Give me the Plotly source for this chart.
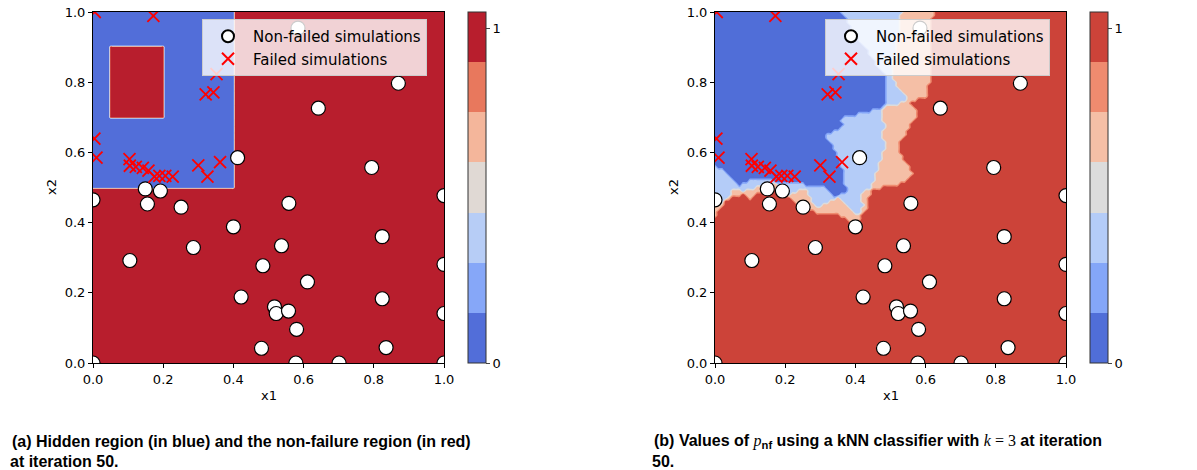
import numpy as np
import plotly.graph_objects as go

# ---------------- data ----------------
nonfailed_x = [0.0, 0.149, 0.192, 0.155, 0.251, 0.412, 0.400, 0.558, 0.870, 0.642,
               0.794, 1.0, 0.824, 0.0, 0.105, 0.286, 0.537, 0.484, 0.422, 0.517,
               0.522, 0.557, 0.580, 0.480, 0.578, 1.0, 0.611, 0.824, 1.0, 0.835,
               0.701, 1.0, 0.584]
nonfailed_y = [0.465, 0.496, 0.490, 0.453, 0.444, 0.585, 0.388, 0.455, 0.797, 0.726,
               0.557, 0.477, 0.360, 0.0, 0.292, 0.329, 0.334, 0.277, 0.188, 0.160,
               0.141, 0.148, 0.096, 0.042, 0.0, 0.281, 0.231, 0.183, 0.141, 0.044,
               0.0, 0.0, 0.954]
failed_x = [0.005, 0.172, 0.352, 0.321, 0.343, 0.004, 0.010, 0.104, 0.105, 0.122,
            0.142, 0.158, 0.175, 0.189, 0.206, 0.227, 0.300, 0.326, 0.362]
failed_y = [1.0, 0.989, 0.823, 0.765, 0.771, 0.639, 0.585, 0.581, 0.562, 0.559,
            0.556, 0.548, 0.531, 0.533, 0.533, 0.531, 0.563, 0.531, 0.572]

# hidden (failure) region: outer box minus inner box  (x0, x1, y0, y1)
hidden_box = (0.0, 0.4, 0.5, 1.0)
inner_box = (0.05, 0.2, 0.7, 0.9)
k_neighbors = 3

levels = [0.0, 0.15, 0.30, 0.45, 0.60, 0.75, 0.90, 1.05]
colors_left = ['#526ed9', '#86a7f8', '#b7cdf6', '#e0d9d4', '#f4b69b', '#e8785d', '#b81e2d']
colors_right = ['#506ed8', '#84a6f8', '#b4ccf8', '#dcdcdc', '#f5bfa6', '#ef8b6f', '#cc4339']

# ---------------- derived fields ----------------
W, H = 1197, 470
gx = np.linspace(0, 1, 201)
gy = np.linspace(0, 1, 201)
X, Y = np.meshgrid(gx, gy)
in_hidden = (X >= hidden_box[0]) & (X <= hidden_box[1]) & (Y >= hidden_box[2]) & (Y <= hidden_box[3])
in_inner = (X >= inner_box[0]) & (X <= inner_box[1]) & (Y >= inner_box[2]) & (Y <= inner_box[3])
z_left = np.where(in_hidden & ~in_inner, 0.0, 1.0)

kx = np.linspace(0, 1, 101)
ky = np.linspace(0, 1, 101)
KX, KY = np.meshgrid(kx, ky)
px = np.array(nonfailed_x + failed_x)
py = np.array(nonfailed_y + failed_y)
lab = np.array([1.0] * len(nonfailed_x) + [0.0] * len(failed_x))
d = (KX[..., None] - px) ** 2 + (KY[..., None] - py) ** 2
idx = np.argsort(d, axis=-1)[..., :k_neighbors]
z_right = lab[idx].mean(axis=-1)


def stepped(cols):
    n = len(cols)
    cs = []
    for i, c in enumerate(cols):
        cs.append([i / n, c])
        cs.append([(i + 1) / n, c])
    return cs


def px2x(p):
    return p / W


def px2y(p):
    return 1 - p / H


left_dom = [px2x(93), px2x(444)]
right_dom = [px2x(715), px2x(1066)]
ydom = [px2y(363), px2y(12)]

fig = go.Figure()

for (z, xs, ys, cols, xa, ya, cbx) in [
    (z_left, gx, gy, colors_left, 'x', 'y', 468),
    (z_right, kx, ky, colors_right, 'x2', 'y2', 1090),
]:
    fig.add_trace(go.Contour(
        z=z, x=xs, y=ys, xaxis=xa, yaxis=ya,
        colorscale=stepped(cols), zmin=levels[0], zmax=levels[-1], zauto=False,
        contours=dict(start=levels[0], end=levels[-1], size=0.15, coloring='fill', showlines=False),
        line=dict(width=0),
        showlegend=False, hoverinfo='skip',
        colorbar=dict(
            x=px2x(cbx), xanchor='left', y=px2y(363), yanchor='bottom',
            len=351 / H, lenmode='fraction', thickness=18, thicknessmode='pixels',
            xpad=0, ypad=0, outlinewidth=1, outlinecolor='#333333',
            tickvals=[0, 1], ticktext=['0', '1'], ticks='outside', ticklen=4,
            tickfont=dict(family='DejaVu Sans', size=13, color='black'),
        ),
    ))

for (xa, ya, lg) in [('x', 'y', 'legend'), ('x2', 'y2', 'legend2')]:
    fig.add_trace(go.Scatter(
        x=nonfailed_x, y=nonfailed_y, mode='markers', xaxis=xa, yaxis=ya, legend=lg,
        name='Non-failed simulations',
        marker=dict(symbol='circle', size=14, color='white', line=dict(color='black', width=1.2)),
    ))
    fig.add_trace(go.Scatter(
        x=failed_x, y=failed_y, mode='markers', xaxis=xa, yaxis=ya, legend=lg,
        name='Failed simulations',
        marker=dict(symbol='x-thin', size=12, color='red', line=dict(color='red', width=1.8)),
    ))

axis_common = dict(range=[0, 1], showgrid=False, zeroline=False, showline=True, mirror=True,
                   automargin=False,
                   linecolor='black', linewidth=1, ticks='outside', ticklen=4, tickcolor='black',
                   tickvals=[0, 0.2, 0.4, 0.6, 0.8, 1.0],
                   ticktext=['0.0', '0.2', '0.4', '0.6', '0.8', '1.0'],
                   tickfont=dict(family='DejaVu Sans', size=13, color='black'))

legend_common = dict(bgcolor='rgba(255,255,255,0.8)', bordercolor='#cccccc', borderwidth=1,
                     xanchor='left', yanchor='top', y=px2y(19),
                     font=dict(family='DejaVu Sans', size=15, color='black'),
                     tracegroupgap=0, itemsizing='constant', itemwidth=40)

fig.update_layout(
    width=W, height=H, margin=dict(l=0, r=0, t=0, b=0, pad=0, autoexpand=False),
    paper_bgcolor='white', plot_bgcolor='white',
    xaxis=dict(domain=left_dom, anchor='y', **axis_common),
    yaxis=dict(domain=ydom, anchor='x', **axis_common),
    xaxis2=dict(domain=right_dom, anchor='y2', **axis_common),
    yaxis2=dict(domain=ydom, anchor='x2', **axis_common),
    legend=dict(x=px2x(202), **legend_common),
    legend2=dict(x=px2x(825), **legend_common),
)

ann_font = dict(family='DejaVu Sans', size=13, color='black')
cap_font = dict(family='Liberation Sans Narrow, Liberation Sans', size=16, color='black')
serif = "<span style=\"font-family:'Liberation Serif'\">"
annotations = [
    dict(text='x1', x=px2x(268.5), y=px2y(395), font=ann_font),
    dict(text='x1', x=px2x(890.5), y=px2y(395), font=ann_font),
    dict(text='x2', x=px2x(51), y=px2y(187), font=ann_font, textangle=-90),
    dict(text='x2', x=px2x(673), y=px2y(187), font=ann_font, textangle=-90),
    dict(text='<b>(a) Hidden region (in blue) and the non-failure region (in red)</b>',
         x=px2x(10), y=px2y(441), xanchor='left', font=cap_font),
    dict(text='<b>at iteration 50.</b>', x=px2x(8), y=px2y(461), xanchor='left', font=cap_font),
    dict(text='<b>(b) Values of </b>' + serif + '<i>p</i></span><sub><b>nf</b></sub>'
              '<b> using a kNN classifier with </b>' + serif + '<i>k</i> = 3</span>'
              '<b> at iteration</b>',
         x=px2x(652), y=px2y(441), xanchor='left', font=cap_font),
    dict(text='<b>50.</b>', x=px2x(650), y=px2y(461), xanchor='left', font=cap_font),
]
for a in annotations:
    a.setdefault('xanchor', 'center')
    a.update(xref='paper', yref='paper', showarrow=False, yanchor='middle')
fig.update_layout(annotations=annotations)

fig.write_html('out.html',
               config={'displayModeBar': False},
               post_script="document.body.style.margin='0';document.body.style.padding='0';"
                           "document.body.style.overflow='hidden';")
